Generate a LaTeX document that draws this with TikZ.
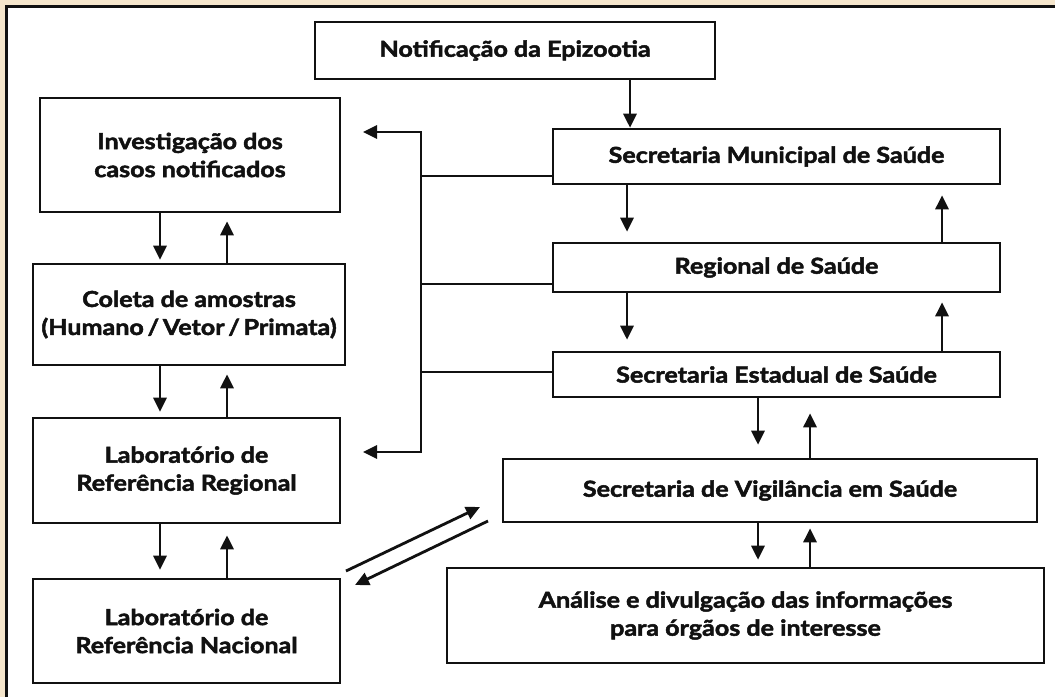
\documentclass[tikz,border=0pt]{standalone}
\usepackage{fontspec}
\setmainfont{Lato}[BoldFeatures={FakeBold=2.2, FakeStretch=1.14}]
\usetikzlibrary{arrows.meta}
\definecolor{cream}{HTML}{F5E6CC}
\definecolor{ink}{HTML}{111111}
\tikzset{
  box/.style={draw=ink, line width=2.6pt, fill=white, align=center, inner sep=0pt,
    font=\fontsize{22}{28}\selectfont\bfseries, text=ink},
  arr/.style={draw=ink, line width=2.8pt, -{Triangle[length=14pt,width=13pt]}},
  arrtwo/.style={draw=ink, line width=2.8pt, {Triangle[length=14pt,width=13pt]}-{Triangle[length=14pt,width=13pt]}},
  link/.style={draw=ink, line width=2.8pt}
}
\begin{document}
\begin{tikzpicture}[x=1pt,y=-1pt]
\useasboundingbox (0,0) rectangle (1055,697);
\fill[cream] (0,0) rectangle (1055,697);
\fill[white] (7,7) rectangle (1055,697);
\draw[ink, line width=2.2pt] (6.5,697) -- (6.5,6.5) -- (1055,6.5);

% boxes
\node[box, minimum width=400pt, minimum height=57pt] (notif) at (515,50.5) {Notificação da Epizootia};
\node[box, minimum width=300pt, minimum height=114pt] (inv) at (190,155) {Investigação dos\\casos notificados};
\node[box, minimum width=312pt, minimum height=101pt] (col) at (189,314.5) {Coleta de amostras\\(Humano\,/\,Vetor\,/\,Primata)};
\node[box, minimum width=307pt, minimum height=105pt] (labr) at (186.5,470.5) {Laboratório de\\Referência Regional};
\node[box, minimum width=307pt, minimum height=104pt] (labn) at (186.5,631) {Laboratório de\\Referência Nacional};
\node[box, minimum width=447pt, minimum height=55pt] (mun) at (776.5,156.5) {Secretaria Municipal de Saúde};
\node[box, minimum width=447pt, minimum height=49pt] (reg) at (776.5,267.5) {Regional de Saúde};
\node[box, minimum width=447pt, minimum height=45pt] (est) at (776.5,374.5) {Secretaria Estadual de Saúde};
\node[box, minimum width=534pt, minimum height=63pt] (vig) at (770,490.5) {Secretaria de Vigilância em Saúde};
\node[box, minimum width=597pt, minimum height=95pt] (ana) at (745.5,615.5) {Análise e divulgação das informações\\para órgãos de interesse};

% column x positions
\coordinate (xa) at (160,0);
\coordinate (xb) at (227,0);
\coordinate (xc) at (630,0);
\coordinate (xd) at (627,0);
\coordinate (xe) at (942,0);
\coordinate (xf) at (758,0);
\coordinate (xg) at (810,0);

% vertical arrows
\draw[arr, shorten >=0pt] (notif.south -| xc) -- (mun.north -| xc);
\draw[arr, shorten >=3pt] (inv.south -| xa) -- (col.north -| xa);
\draw[arr, shorten >=8pt] (col.north -| xb) -- (inv.south -| xb);
\draw[arr, shorten >=5pt] (col.south -| xa) -- (labr.north -| xa);
\draw[arr, shorten >=8pt] (labr.north -| xb) -- (col.south -| xb);
\draw[arr, shorten >=8pt] (labr.south -| xa) -- (labn.north -| xa);
\draw[arr, shorten >=11pt] (labn.north -| xb) -- (labr.south -| xb);
\draw[arr, shorten >=10pt] (mun.south -| xd) -- (reg.north -| xd);
\draw[arr, shorten >=10pt] (reg.north -| xe) -- (mun.south -| xe);
\draw[arr, shorten >=11pt] (reg.south -| xd) -- (est.north -| xd);
\draw[arr, shorten >=9pt] (est.north -| xe) -- (reg.south -| xe);
\draw[arr, shorten >=13pt] (est.south -| xf) -- (vig.north -| xf);
\draw[arr, shorten >=15pt] (vig.north -| xg) -- (est.south -| xg);
\draw[arr, shorten >=7pt] (vig.south -| xf) -- (ana.north -| xf);
\draw[arr, shorten >=5pt] (ana.north -| xg) -- (vig.south -| xg);

% branching connector
\coordinate (ta) at (363,132);
\coordinate (ca) at (421,132);
\coordinate (cb) at (421,452);
\coordinate (tb) at (363,452);
\coordinate (b1) at (421,176);
\coordinate (b2) at (421,284);
\coordinate (b3) at (421,372);
\draw[arrtwo] (ta) -- (ca) -- (cb) -- (tb);
\draw[link] (b1) -- (b1 -| mun.west);
\draw[link] (b2) -- (b2 -| reg.west);
\draw[link] (b3) -- (b3 -| est.west);

% diagonal exchange arrows
\coordinate (d1s) at (346,571);
\coordinate (d1e) at (480,507);
\coordinate (d2s) at (488,521);
\coordinate (d2e) at (355,585);
\draw[arr] (d1s) -- (d1e);
\draw[arr] (d2s) -- (d2e);
\end{tikzpicture}
\end{document}
